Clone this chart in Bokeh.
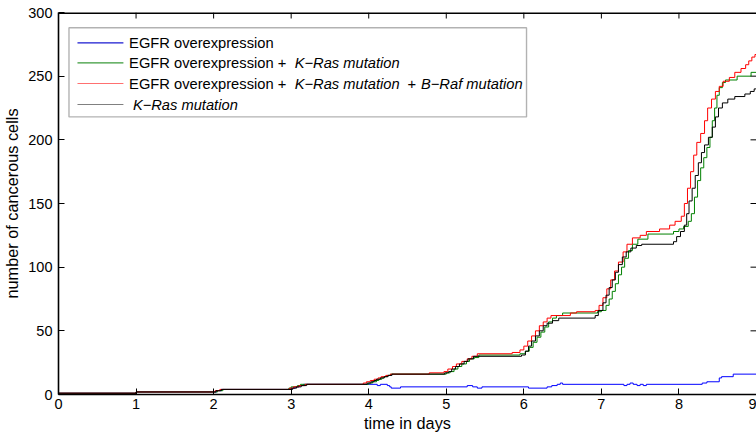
import math
from bokeh.plotting import figure
from bokeh.models import Range1d, FixedTicker, Label, BoxAnnotation
from bokeh.embed import file_html
from bokeh.resources import INLINE

# ---------------- data ----------------
x_ticks = [0, 1, 2, 3, 4, 5, 6, 7, 8, 9]
y_ticks = [0, 50, 100, 150, 200, 250, 300]

# EGFR overexpression (blue)
t_egfr = [0, 1.0, 2.04, 2.1, 3.0, 3.05, 3.1, 3.16, 4.11, 4.15, 4.24, 4.27, 4.29, 4.41,
          5.27, 5.34, 5.4, 5.46, 6.06, 6.3, 6.36, 6.43, 6.47, 6.5, 7.29, 7.33, 7.37, 7.41,
          7.46, 7.5, 7.54, 7.58, 8.3, 8.36, 8.52, 8.55, 8.7, 9.0]
n_egfr = [1, 2, 3, 4, 5, 6, 7, 8, 7, 8, 7, 6, 5, 6,
          7, 6, 5, 6, 5, 6, 7, 8, 9, 8, 7, 8, 9, 8,
          7, 8, 7, 8, 9, 10, 13, 14, 16, 16]

# EGFR overexpression + K-Ras mutation (green)
t_grn = [0, 1.0, 2.05, 2.12, 2.97, 3.0, 3.08, 3.12, 4.0, 4.05, 4.1, 4.13, 4.17, 4.2, 4.24, 4.28,
         5.0, 5.05, 5.1, 5.15, 5.2, 5.26, 5.3, 5.36, 5.42, 5.95, 6.02, 6.07, 6.12, 6.17, 6.22,
         6.27, 6.32, 6.37, 6.42, 6.5, 6.95, 7.0, 7.06, 7.1, 7.14, 7.18, 7.22, 7.26, 7.3, 7.35,
         7.4, 7.47, 7.6, 7.93, 8.0, 8.06, 8.12, 8.16, 8.2, 8.24, 8.28, 8.32, 8.36, 8.4, 8.43,
         8.46, 8.49, 8.52, 8.56, 8.6, 8.75, 8.93, 9.0]
n_grn = [1, 2, 3, 4, 5, 6, 7, 8, 9, 10, 11, 12, 13, 14, 15, 16,
         17, 18, 20, 22, 24, 26, 28, 29, 31, 32, 34, 37, 41, 45, 49,
         53, 57, 60, 62, 64, 65, 66, 70, 75, 81, 87, 94, 100, 107, 113,
         118, 122, 126, 128, 130, 132, 136, 142, 155, 168, 178, 186, 194, 202, 215,
         225, 235, 241, 245, 247, 250, 253, 253]

# EGFR overexpression + K-Ras mutation + B-Raf mutation (red)
t_red = [0, 1.0, 2.02, 2.08, 2.98, 3.03, 3.1, 3.18, 3.93, 3.97, 4.02, 4.07, 4.12, 4.16, 4.22, 4.28,
         4.78, 4.97, 5.02, 5.08, 5.13, 5.2, 5.27, 5.33, 5.4, 5.85, 5.95, 6.0, 6.05, 6.1, 6.15,
         6.2, 6.25, 6.3, 6.35, 6.6, 6.68, 6.92, 6.97, 7.02, 7.07, 7.12, 7.17, 7.22, 7.28, 7.33,
         7.4, 7.5, 7.58, 7.75, 7.88, 7.95, 8.03, 8.07, 8.11, 8.15, 8.19, 8.23, 8.28, 8.33, 8.37,
         8.42, 8.47, 8.52, 8.57, 8.65, 8.72, 8.8, 8.86, 8.9, 8.94, 8.98, 9.0]
n_red = [1, 2, 3, 4, 5, 6, 7, 8, 9, 10, 11, 12, 13, 14, 15, 16,
         17, 18, 20, 22, 24, 26, 28, 30, 32, 33, 35, 38, 42, 46, 50,
         54, 57, 60, 62, 64, 65, 66, 70, 76, 83, 90, 97, 104, 112, 118,
         123, 125, 128, 130, 133, 136, 140, 150, 162, 175, 188, 198, 205, 215, 225,
         232, 238, 242, 246, 249, 253, 256, 259, 262, 265, 267, 267]

# K-Ras mutation (black)
t_blk = [0, 1.0, 2.03, 2.1, 3.02, 3.07, 3.13, 3.2, 3.98, 4.03, 4.07, 4.1, 4.15, 4.2, 4.25, 4.3,
         4.98, 5.03, 5.07, 5.12, 5.17, 5.23, 5.28, 5.35, 5.97, 6.02, 6.06, 6.1, 6.15, 6.2, 6.25,
         6.3, 6.37, 6.45, 6.92, 6.96, 7.02, 7.06, 7.1, 7.14, 7.18, 7.22, 7.27, 7.32, 7.38, 7.45,
         7.52, 7.93, 7.97, 8.02, 8.07, 8.1, 8.13, 8.17, 8.21, 8.25, 8.29, 8.33, 8.38, 8.43, 8.47,
         8.51, 8.56, 8.63, 8.72, 8.85, 8.92, 8.97, 9.0]
n_blk = [1, 2, 3, 4, 5, 6, 7, 8, 9, 10, 11, 12, 13, 14, 15, 16,
         17, 18, 20, 22, 24, 26, 28, 30, 31, 34, 38, 42, 46, 50, 54,
         56, 58, 60, 62, 66, 72, 78, 84, 90, 96, 102, 108, 112, 115, 117,
         118, 120, 124, 128, 133, 142, 152, 162, 172, 182, 190, 196, 202, 210, 218,
         225, 229, 232, 234, 236, 238, 240, 240]

series = [
    (t_egfr, n_egfr, "#0000ff"),
    (t_grn, n_grn, "#008000"),
    (t_red, n_red, "#ff0000"),
    (t_blk, n_blk, "#000000"),
]
legend_sample_colors = ["#1a1ad0", "#3a9a3a", "#ff7070", "#808080"]

# legend text pieces: (text, style)
legend_rows = [
    [("EGFR overexpression", "normal")],
    [("EGFR overexpression +", "normal"), ("K\u2212Ras mutation", "italic")],
    [("EGFR overexpression +", "normal"), ("K\u2212Ras mutation", "italic"),
     ("+", "normal"), ("B\u2212Raf mutation", "italic")],
    [("K\u2212Ras mutation", "italic")],
]

# ---------------- layout ----------------
FONT = "Liberation Sans"
W, H = 756, 436
BL, BR, BT, BB = 57, 0, 12, 42
FW = W - BL - BR
FH = H - BT - BB
X0, X1, Y0, Y1 = 0, 9, 0, 300


def dx(px):  # pixels from frame left -> data x
    return X0 + px * (X1 - X0) / FW


def dy(px):  # pixels from frame top -> data y
    return Y1 - px * (Y1 - Y0) / FH


p = figure(width=W, height=H, x_range=Range1d(X0, X1), y_range=Range1d(Y0, Y1),
           output_backend="svg", toolbar_location=None,
           min_border_left=BL, min_border_right=BR, min_border_top=BT, min_border_bottom=BB)
p.outline_line_color = None
p.grid.visible = False
p.background_fill_color = "white"
p.border_fill_color = "white"

xax = p.xaxis[0]
yax = p.yaxis[0]
xax.ticker = FixedTicker(ticks=x_ticks)
yax.ticker = FixedTicker(ticks=y_ticks)
for ax in [xax, yax]:
    ax.axis_line_color = "black"
    ax.axis_line_width = 1.6
    ax.major_tick_in = 6
    ax.major_tick_out = 0
    ax.major_tick_line_color = "black"
    ax.minor_tick_line_color = None
    ax.major_label_text_font = FONT
    ax.major_label_text_font_size = "14.5px"
    ax.major_label_text_color = "black"
    ax.axis_label_text_font = FONT
    ax.axis_label_text_font_size = "16.3px"
    ax.axis_label_text_font_style = "normal"
    ax.axis_label_text_color = "black"
xax.major_label_standoff = 4
yax.major_label_standoff = 6
xax.axis_label = "time in days"
xax.axis_label_standoff = 2
yax.axis_label = "number of cancerous cells"
yax.axis_label_standoff = 4

# top edge of the box and inward ticks on top and right (the right edge itself is cut off)
p.segment(x0=[X0], y0=[Y1], x1=[X1], y1=[Y1], line_color="black", line_width=3.2)
p.segment(x0=x_ticks[1:-1], y0=[Y1] * (len(x_ticks) - 2), x1=x_ticks[1:-1],
          y1=[dy(6)] * (len(x_ticks) - 2), line_color="black", line_width=1)
p.segment(x0=[X1] * (len(y_ticks) - 2), y0=y_ticks[1:-1], x1=[dx(FW - 6)] * (len(y_ticks) - 2),
          y1=y_ticks[1:-1], line_color="black", line_width=1)

# curves
for t, n, c in series:
    p.step(t, n, mode="after", line_color=c, line_width=1)

# legend (drawn by hand so that the mutation names can be italic)
p.add_layout(BoxAnnotation(left=dx(10.5), right=dx(468.7), top=dy(15.2), bottom=dy(104.4),
                           fill_color=None, line_color="black", line_width=1.4))
row_y = [30.4, 50.4, 71.0, 92.0]
piece_x = [[70.7],
           [70.7, 236.5],
           [70.7, 236.5, 349.5, 363.0],
           [74.5]]
p.segment(x0=[dx(19)] * 4, x1=[dx(65)] * 4, y0=[dy(r) for r in row_y], y1=[dy(r) for r in row_y],
          line_color=legend_sample_colors, line_width=1.2)
for r, pieces, xs in zip(row_y, legend_rows, piece_x):
    for (txt, style), px in zip(pieces, xs):
        p.add_layout(Label(x=dx(px), y=dy(r), text=txt, text_font=FONT, text_font_size="14.7px",
                           text_font_style=style, text_align="left", text_baseline="middle",
                           text_color="black"))

open("out.html", "w").write(file_html(p, INLINE))
